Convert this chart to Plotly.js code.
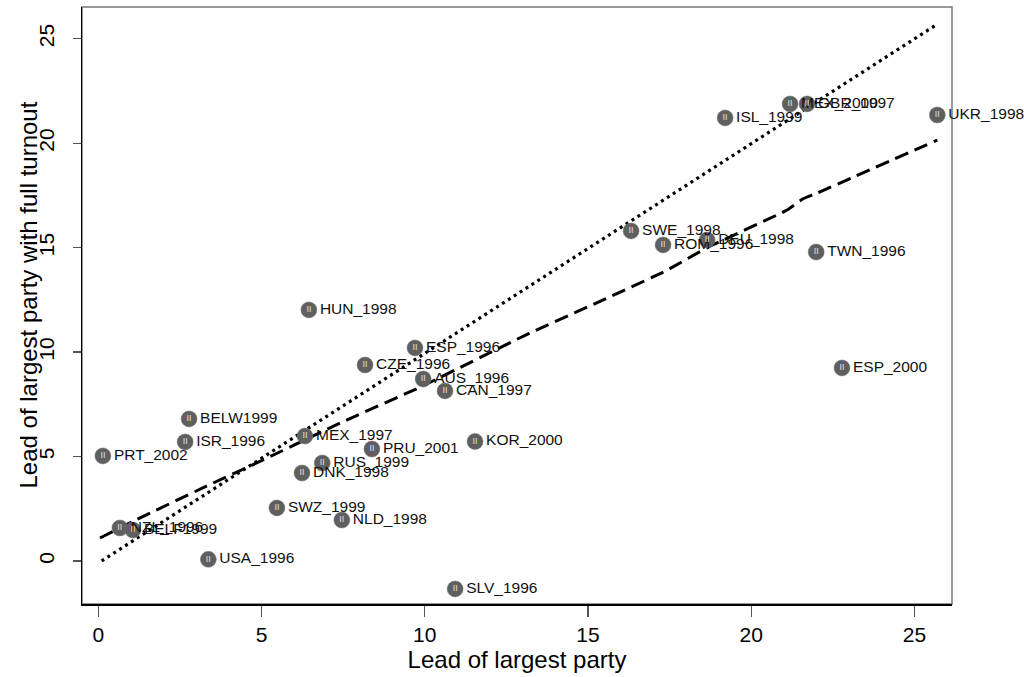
<!DOCTYPE html>
<html>
<head>
<meta charset="utf-8">
<script src="https://cdn.plot.ly/plotly-3.0.1.min.js"></script>
<style>html,body{margin:0;padding:0;background:#fff;}#chart{width:1024px;height:677px;}</style>
</head>
<body>
<div id="chart"></div>
<script>
// Election labels
const labels = ["PRT_2002","NZL_1996","BELF1999","USA_1996","ISR_1996","BELW1999","SWZ_1999","DNK_1998","MEX_1997","HUN_1998","RUS_1999","NLD_1998","CZE_1996","PRU_2001","ESP_1996","AUS_1996","CAN_1997","SLV_1996","KOR_2000","SWE_1998","ROM_1996","DEU_1998","ISL_1999","MEX_2000","GBR_1997","TWN_1996","ESP_2000","UKR_1998"];
// Lead of largest party (actual)
const lead = [0.14,0.66,1.06,3.37,2.66,2.78,5.47,6.24,6.33,6.45,6.86,7.46,8.17,8.38,9.70,9.95,10.62,10.93,11.54,16.32,17.30,18.65,19.20,21.19,21.71,21.99,22.78,25.70];
// Lead of largest party with full turnout
const full = [5.03,1.58,1.48,0.08,5.70,6.80,2.54,4.21,5.98,12.02,4.69,1.96,9.38,5.36,10.20,8.71,8.14,-1.34,5.72,15.80,15.13,15.37,21.21,21.88,21.88,14.79,9.24,21.35];
// 45-degree reference line
const refX = [0.1, 25.7];
const refY = [0.0, 25.7];
// Fitted (smoothed) line
const fitX = [0.05,1.2,3.2,5.0,7.4,9.9,13.2,15.4,17.4,18.65,21.1,21.6,22.0,25.7];
const fitY = [1.1,2.0,3.5,4.8,6.6,8.35,10.9,12.45,13.9,15.0,16.8,17.35,17.6,20.15];
// Axis ticks
const tickVals = [0,5,10,15,20,25];
const tickText = ["0","5","10","15","20","25"];
const xTitle = "Lead of largest party";
const yTitle = "Lead of largest party with full turnout";

const FONT = "Liberation Sans, Arial, sans-serif";

const traces = [
  {x: refX, y: refY, mode: "lines", line: {color: "#000", width: 3.2, dash: "3px,4px"}, hoverinfo: "skip", showlegend: false},
  {x: fitX, y: fitY, mode: "lines", line: {color: "#000", width: 3, dash: "14px,7px", shape: "spline", smoothing: 0.3}, hoverinfo: "skip", showlegend: false},
  {x: lead, y: full, mode: "markers+text", text: labels, textposition: "middle right",
   textfont: {family: FONT, size: 15.5, color: "#111"},
   marker: {color: "#5f5f5f", size: 16, line: {color: "#777", width: 0.5}}, showlegend: false, cliponaxis: false},
  {x: lead, y: full, mode: "text", text: labels.map(() => "II"), textposition: "middle center",
   textfont: {family: FONT, size: 9, color: "#e0e0e0"}, hoverinfo: "skip", showlegend: false, cliponaxis: false}
];

const layout = {
  width: 1024, height: 677,
  margin: {l: 82, r: 72, t: 7, b: 73},
  paper_bgcolor: "#fff", plot_bgcolor: "#fff",
  font: {family: FONT, color: "#000"},
  xaxis: {
    range: [-0.5, 26.15], showgrid: false, zeroline: false,
    showline: true, linecolor: "#000", linewidth: 1.5,
    ticks: "outside", ticklen: 11, tickwidth: 1.2, tickcolor: "#555",
    tickvals: tickVals, ticktext: tickText,
    tickfont: {family: FONT, size: 21, color: "#000"},
    title: {text: xTitle, font: {family: FONT, size: 24, color: "#000"}, standoff: 0}
  },
  yaxis: {
    range: [-2.06, 26.52], showgrid: false, zeroline: false,
    showline: true, linecolor: "#000", linewidth: 1.5,
    ticks: "outside", ticklen: 8, tickwidth: 1.2, tickcolor: "#555",
    tickvals: tickVals, ticktext: tickText, tickangle: -90, ticklabelstandoff: 10,
    tickfont: {family: FONT, size: 21, color: "#000"}
  },
  annotations: [
    {text: yTitle, xref: "paper", yref: "paper", x: 0, y: 0.5, xanchor: "center", yanchor: "middle",
     xshift: -54, yshift: 10, textangle: -90, showarrow: false,
     font: {family: FONT, size: 24, color: "#000"}}
  ],
  shapes: [
    {type: "rect", xref: "paper", yref: "paper", x0: 0, x1: 1, y0: 0, y1: 1, line: {color: "#777", width: 1.5}, layer: "below"}
  ]
};

Plotly.newPlot("chart", traces, layout, {displayModeBar: false, staticPlot: true});
</script>
</body>
</html>
